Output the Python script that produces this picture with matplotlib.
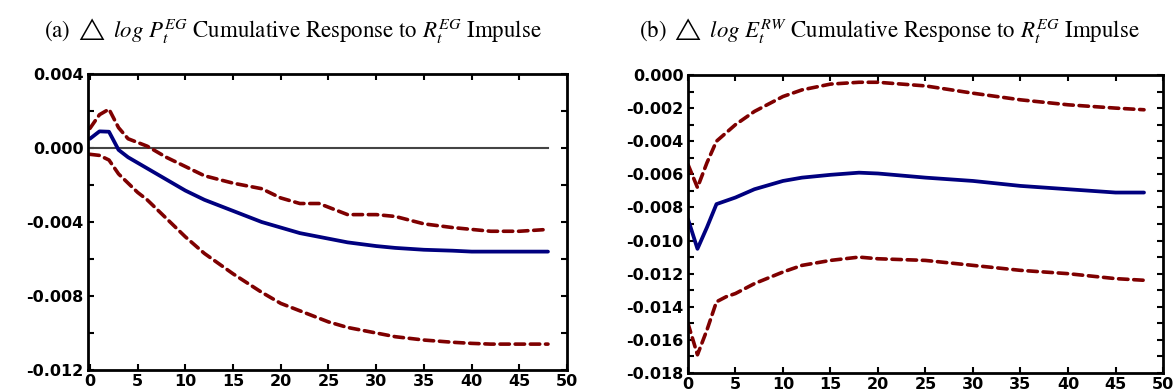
import numpy as np
import matplotlib
matplotlib.use('Agg')
import matplotlib.pyplot as plt
from matplotlib.ticker import MultipleLocator, FuncFormatter
from matplotlib.font_manager import FontProperties

plt.rcParams['mathtext.fontset'] = 'stix'

### DATA ######################################################################
# (a) dlog P^EG response to R^EG impulse
xa = [0, 1, 2, 3, 4, 5, 6, 7, 8, 10, 12, 15, 18, 20, 22, 24, 25, 27, 30, 32, 35, 38, 40, 42, 45, 48]
a_mid = [0.0005, 0.0009, 0.00088, -0.0001, -0.0005, -0.0008, -0.0011, -0.0014, -0.0017, -0.0023,
         -0.0028, -0.0034, -0.004, -0.0043, -0.0046, -0.0048, -0.0049, -0.0051, -0.0053, -0.0054,
         -0.0055, -0.00555, -0.0056, -0.0056, -0.0056, -0.0056]
a_up = [0.00106, 0.0018, 0.0021, 0.0011, 0.0005, 0.0003, 0.0001, -0.0002, -0.0005, -0.001,
        -0.0015, -0.0019, -0.0022, -0.0027, -0.003, -0.003, -0.0032, -0.0036, -0.0036, -0.0037,
        -0.0041, -0.0043, -0.0044, -0.0045, -0.0045, -0.0044]
a_lo = [-0.00034, -0.0004, -0.00065, -0.0014, -0.0019, -0.0024, -0.0028, -0.0033, -0.0038, -0.0048,
        -0.0057, -0.0068, -0.0078, -0.0084, -0.0088, -0.0092, -0.0094, -0.0097, -0.01, -0.0102,
        -0.01038, -0.0105, -0.01056, -0.0106, -0.0106, -0.0106]

# (b) dlog E^RW response to R^EG impulse
xb = [0, 1, 2, 3, 4, 5, 7, 10, 12, 15, 18, 20, 25, 30, 35, 40, 45, 48]
b_mid = [-0.0087, -0.0105, -0.0092, -0.0078, -0.0076, -0.0074, -0.0069, -0.0064, -0.0062,
         -0.00603, -0.0059, -0.00595, -0.0062, -0.0064, -0.0067, -0.0069, -0.0071, -0.0071]
b_up = [-0.0054, -0.0068, -0.0053, -0.004, -0.0035, -0.003, -0.0022, -0.0013, -0.0009,
        -0.00055, -0.00044, -0.00044, -0.00066, -0.0011, -0.0015, -0.0018, -0.002, -0.0021]
b_lo = [-0.015, -0.0169, -0.0154, -0.0137, -0.0134, -0.0132, -0.0126, -0.0119, -0.0115,
        -0.0112, -0.011, -0.0111, -0.0112, -0.0115, -0.0118, -0.012, -0.0123, -0.0124]

titles = [r'(a) $\triangle\ log\ P_t^{EG}$ Cumulative Response to $R_t^{EG}$ Impulse',
          r'(b) $\triangle\ log\ E_t^{RW}$ Cumulative Response to $R_t^{EG}$ Impulse']

### STYLE #####################################################################
blue = '#00007f'
red = '#7f0000'
tickfont = FontProperties(family='DejaVu Sans', weight='bold', size=11.5)

def fmt(v, pos):
    if abs(v) < 1e-12:
        v = 0.0
    return '%.3f' % v

fig = plt.figure(figsize=(11.75, 3.92), dpi=100)
ax1 = fig.add_axes([0.0749, 0.0561, 0.4077, 0.7551])
ax2 = fig.add_axes([0.5855, 0.0485, 0.4043, 0.7602])

def draw(ax, x, mid, up, lo):
    for band in (up, lo):
        ax.plot(x, band, color=red, lw=2.6, ls=(0, (2.6, 1.6)), dash_capstyle='round')
    ax.plot(x, mid, color=blue, lw=2.7, solid_capstyle='round')

def frame(ax):
    for s in ax.spines.values():
        s.set_linewidth(2.0)
    ax.tick_params(which='both', direction='in', top=True, right=True,
                   width=1.5, length=4, pad=3)
    ax.xaxis.set_major_locator(MultipleLocator(5))
    ax.yaxis.set_major_formatter(FuncFormatter(fmt))
    for lab in ax.get_xticklabels() + ax.get_yticklabels():
        lab.set_fontproperties(tickfont)

# left panel
ax1.plot([0, 48], [0, 0], color='#444444', lw=1.5)
draw(ax1, xa, a_mid, a_up, a_lo)
ax1.set_xlim(-0.2, 50)
ax1.set_ylim(-0.012, 0.004)
ax1.yaxis.set_major_locator(MultipleLocator(0.004))
ax1.yaxis.set_minor_locator(MultipleLocator(0.002))
frame(ax1)

# right panel
draw(ax2, xb, b_mid, b_up, b_lo)
ax2.set_xlim(0, 50)
ax2.set_ylim(-0.018, 0.0)
ax2.yaxis.set_major_locator(MultipleLocator(0.002))
ax2.yaxis.set_minor_locator(MultipleLocator(0.001))
frame(ax2)

fig.text(0.249, 0.923, titles[0], ha='center', va='center', family='STIXGeneral', size=16.5)
fig.text(0.757, 0.923, titles[1], ha='center', va='center', family='STIXGeneral', size=16.5)

plt.savefig('out.png', dpi=100)
